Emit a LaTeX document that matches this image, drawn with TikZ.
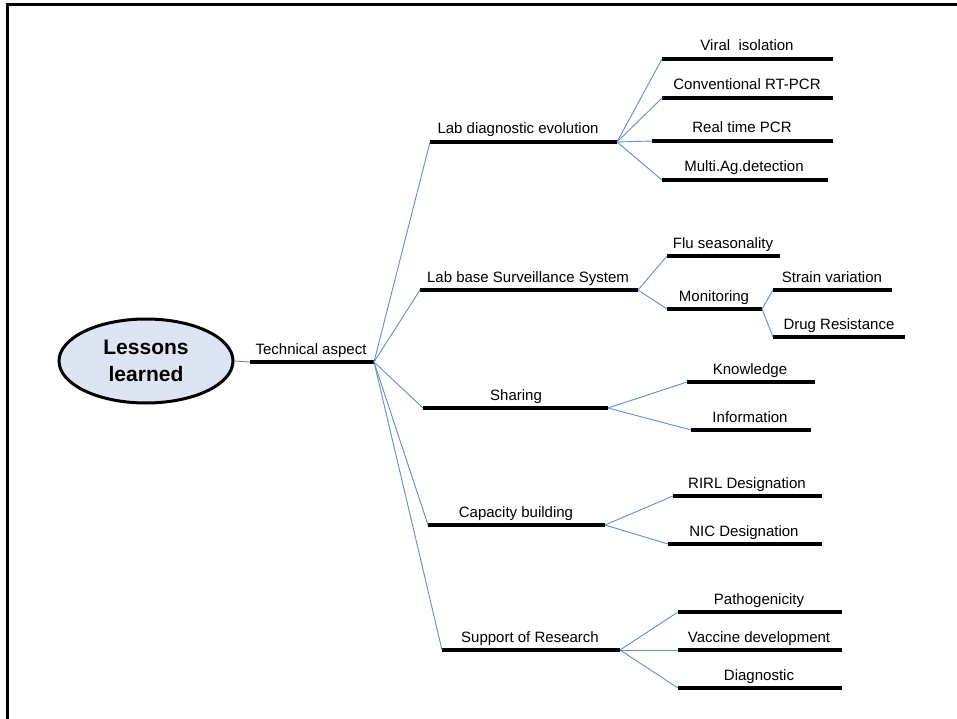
\documentclass[tikz,border=0pt]{standalone}
\usetikzlibrary{shapes.geometric}
\usepackage{fontspec}
\setmainfont{Liberation Sans}
\definecolor{conn}{RGB}{100,140,210}
\definecolor{ellfill}{RGB}{222,229,242}
\tikzset{
  bar/.style={line width=4pt,black},
  link/.style={line width=0.9pt,conn},
  lbl/.style={anchor=base,inner sep=0pt,font=\fontsize{15}{18}\selectfont},
  frame/.style={line width=3pt,black}
}
% \branch{name}{x left}{x right}{y}{text x}{text}
\newcommand\branch[6]{%
  \coordinate (#1-l) at (#2,#4);
  \coordinate (#1-r) at (#3,#4);
  \draw[bar] (#1-l) -- (#1-r);
  \node[lbl] (#1-t) at (#5,#4-8) {#6};
}
\begin{document}
\begin{tikzpicture}[x=1pt,y=-1pt]
\useasboundingbox[fill=white] (0,0) rectangle (957,719);
\draw[frame] (7.5,719) -- (7.5,4.5) -- (957,4.5);

\node[draw,line width=3pt,fill=ellfill,ellipse,minimum width=174pt,minimum height=84pt,inner sep=0pt,
  font=\fontsize{21}{27}\selectfont\bfseries,align=center] (root) at (146,361) {Lessons\\learned};

\branch{tech}{250}{374}{362}{311}{Technical aspect}
\branch{lab}{430}{617}{142}{518}{Lab diagnostic evolution}
\branch{surv}{420}{638}{290}{528}{Lab base Surveillance System}
\branch{share}{423}{608}{408}{516}{Sharing}
\branch{cap}{428}{605}{525}{516}{Capacity building}
\branch{sup}{442}{620}{650}{530}{Support of Research}

\branch{viral}{662}{833}{59}{747}{Viral\ \ isolation}
\branch{conv}{662}{833}{98}{747}{Conventional RT-PCR}
\branch{real}{652}{833}{141}{742}{Real time PCR}
\branch{multi}{662}{828}{180}{744}{Multi.Ag.detection}

\branch{flu}{667}{780}{256}{723}{Flu seasonality}
\branch{mon}{667}{762}{309}{714}{Monitoring}
\branch{strain}{773}{892}{290}{832}{Strain variation}
\branch{drug}{773}{905}{337}{839}{Drug Resistance}

\branch{know}{687}{815}{382}{750}{Knowledge}
\branch{info}{691}{811}{430}{750}{Information}

\branch{rirl}{673}{822}{496}{747}{RIRL Designation}
\branch{nic}{668}{822}{544}{744}{NIC Designation}

\branch{path}{678}{842}{612}{759}{Pathogenicity}
\branch{vacc}{678}{842}{650}{759}{Vaccine development}
\branch{diag}{678}{842}{688}{759}{Diagnostic}

\draw[link] (root.east) -- (tech-l);
\foreach \c in {lab,surv,share,cap,sup} \draw[link] (tech-r) -- (\c-l);
\foreach \c in {viral,conv,real,multi} \draw[link] (lab-r) -- (\c-l);
\foreach \c in {flu,mon} \draw[link] (surv-r) -- (\c-l);
\foreach \c in {strain,drug} \draw[link] (mon-r) -- (\c-l);
\foreach \c in {know,info} \draw[link] (share-r) -- (\c-l);
\foreach \c in {rirl,nic} \draw[link] (cap-r) -- (\c-l);
\foreach \c in {path,vacc,diag} \draw[link] (sup-r) -- (\c-l);
\end{tikzpicture}
\end{document}
